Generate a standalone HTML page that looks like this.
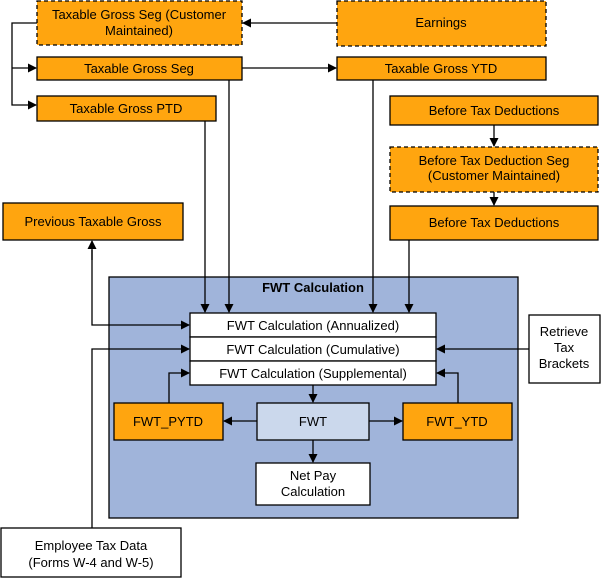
<!DOCTYPE html>
<html><head><meta charset="utf-8"><style>
html,body{margin:0;padding:0;background:#fff}
svg{display:block}
text{font-family:"Liberation Sans",Arial,sans-serif;font-size:13px;fill:#000}
</style></head><body>
<svg width="603" height="579" viewBox="0 0 603 579" xmlns="http://www.w3.org/2000/svg">
<defs><marker id="a" markerWidth="9" markerHeight="9" refX="8" refY="4.5" orient="auto" markerUnits="userSpaceOnUse"><path d="M0,0 L9,4.5 L0,9 z" fill="#000"/></marker></defs>
<g stroke="#000" stroke-width="1.3" fill="#FFA50F">
<rect x="37" y="1" width="205" height="44" stroke-dasharray="4,3"/>
<rect x="337" y="1" width="209" height="45" stroke-dasharray="4,3"/>
<rect x="37" y="57" width="205" height="23"/>
<rect x="337" y="57" width="209" height="23"/>
<rect x="37" y="96" width="179" height="25"/>
<rect x="390" y="96" width="208" height="29"/>
<rect x="390" y="147" width="208" height="45" stroke-dasharray="4,3"/>
<rect x="390" y="206" width="208" height="34"/>
<rect x="3" y="203" width="180" height="37"/>
<rect x="109" y="277" width="409" height="241" fill="#A0B4DA"/>
<rect x="190" y="313" width="246" height="24" fill="#fff"/>
<rect x="190" y="337" width="246" height="24" fill="#fff"/>
<rect x="190" y="361" width="246" height="24" fill="#fff"/>
<rect x="114" y="403" width="109" height="37"/>
<rect x="257" y="403" width="112" height="37" fill="#CBD8EC"/>
<rect x="403" y="403" width="109" height="37"/>
<rect x="256" y="463" width="114" height="42" fill="#fff"/>
<rect x="529" y="315" width="71" height="68" fill="#fff"/>
<rect x="1" y="528" width="180" height="49" fill="#fff"/>
</g>
<g stroke="#000" stroke-width="1.3" fill="none">
<path d="M37,23 H12 V105 H36" marker-end="url(#a)"/>
<path d="M12,68 H36" marker-end="url(#a)"/>
<path d="M337,23 H243" marker-end="url(#a)"/>
<path d="M242,68 H336" marker-end="url(#a)"/>
<path d="M229,80 V312" marker-end="url(#a)"/>
<path d="M205,121 V312" marker-end="url(#a)"/>
<path d="M373,80 V312" marker-end="url(#a)"/>
<path d="M409,240 V312" marker-end="url(#a)"/>
<path d="M494,125 V146" marker-end="url(#a)"/>
<path d="M494,192 V205" marker-end="url(#a)"/>
<path d="M92,250 V325 H189" marker-end="url(#a)"/>
<path d="M92,260 V241" marker-end="url(#a)"/>
<path d="M92,528 V349 H189" marker-end="url(#a)"/>
<path d="M529,349 H437" marker-end="url(#a)"/>
<path d="M313,385 V402" marker-end="url(#a)"/>
<path d="M257,421 H224" marker-end="url(#a)"/>
<path d="M369,421 H402" marker-end="url(#a)"/>
<path d="M313,440 V462" marker-end="url(#a)"/>
<path d="M169,403 V373 H189" marker-end="url(#a)"/>
<path d="M458,403 V373 H437" marker-end="url(#a)"/>
</g>
<g text-anchor="middle">
<text x="139" y="19">Taxable Gross Seg (Customer</text>
<text x="139" y="35">Maintained)</text>
<text x="441" y="27">Earnings</text>
<text x="139" y="73">Taxable Gross Seg</text>
<text x="441" y="73">Taxable Gross YTD</text>
<text x="126" y="113">Taxable Gross PTD</text>
<text x="494" y="115">Before Tax Deductions</text>
<text x="494" y="165">Before Tax Deduction Seg</text>
<text x="494" y="180">(Customer Maintained)</text>
<text x="494" y="227">Before Tax Deductions</text>
<text x="93" y="226">Previous Taxable Gross</text>
<text x="313" y="292" font-weight="bold">FWT Calculation</text>
<text x="313" y="330">FWT Calculation (Annualized)</text>
<text x="313" y="354">FWT Calculation (Cumulative)</text>
<text x="313" y="378">FWT Calculation (Supplemental)</text>
<text x="168" y="426">FWT_PYTD</text>
<text x="313" y="426">FWT</text>
<text x="457" y="426">FWT_YTD</text>
<text x="313" y="480">Net Pay</text>
<text x="313" y="496">Calculation</text>
<text x="564" y="336">Retrieve</text>
<text x="564" y="352">Tax</text>
<text x="564" y="368">Brackets</text>
<text x="91" y="550">Employee Tax Data</text>
<text x="91" y="567">(Forms W-4 and W-5)</text>
</g>
</svg>
</body></html>
